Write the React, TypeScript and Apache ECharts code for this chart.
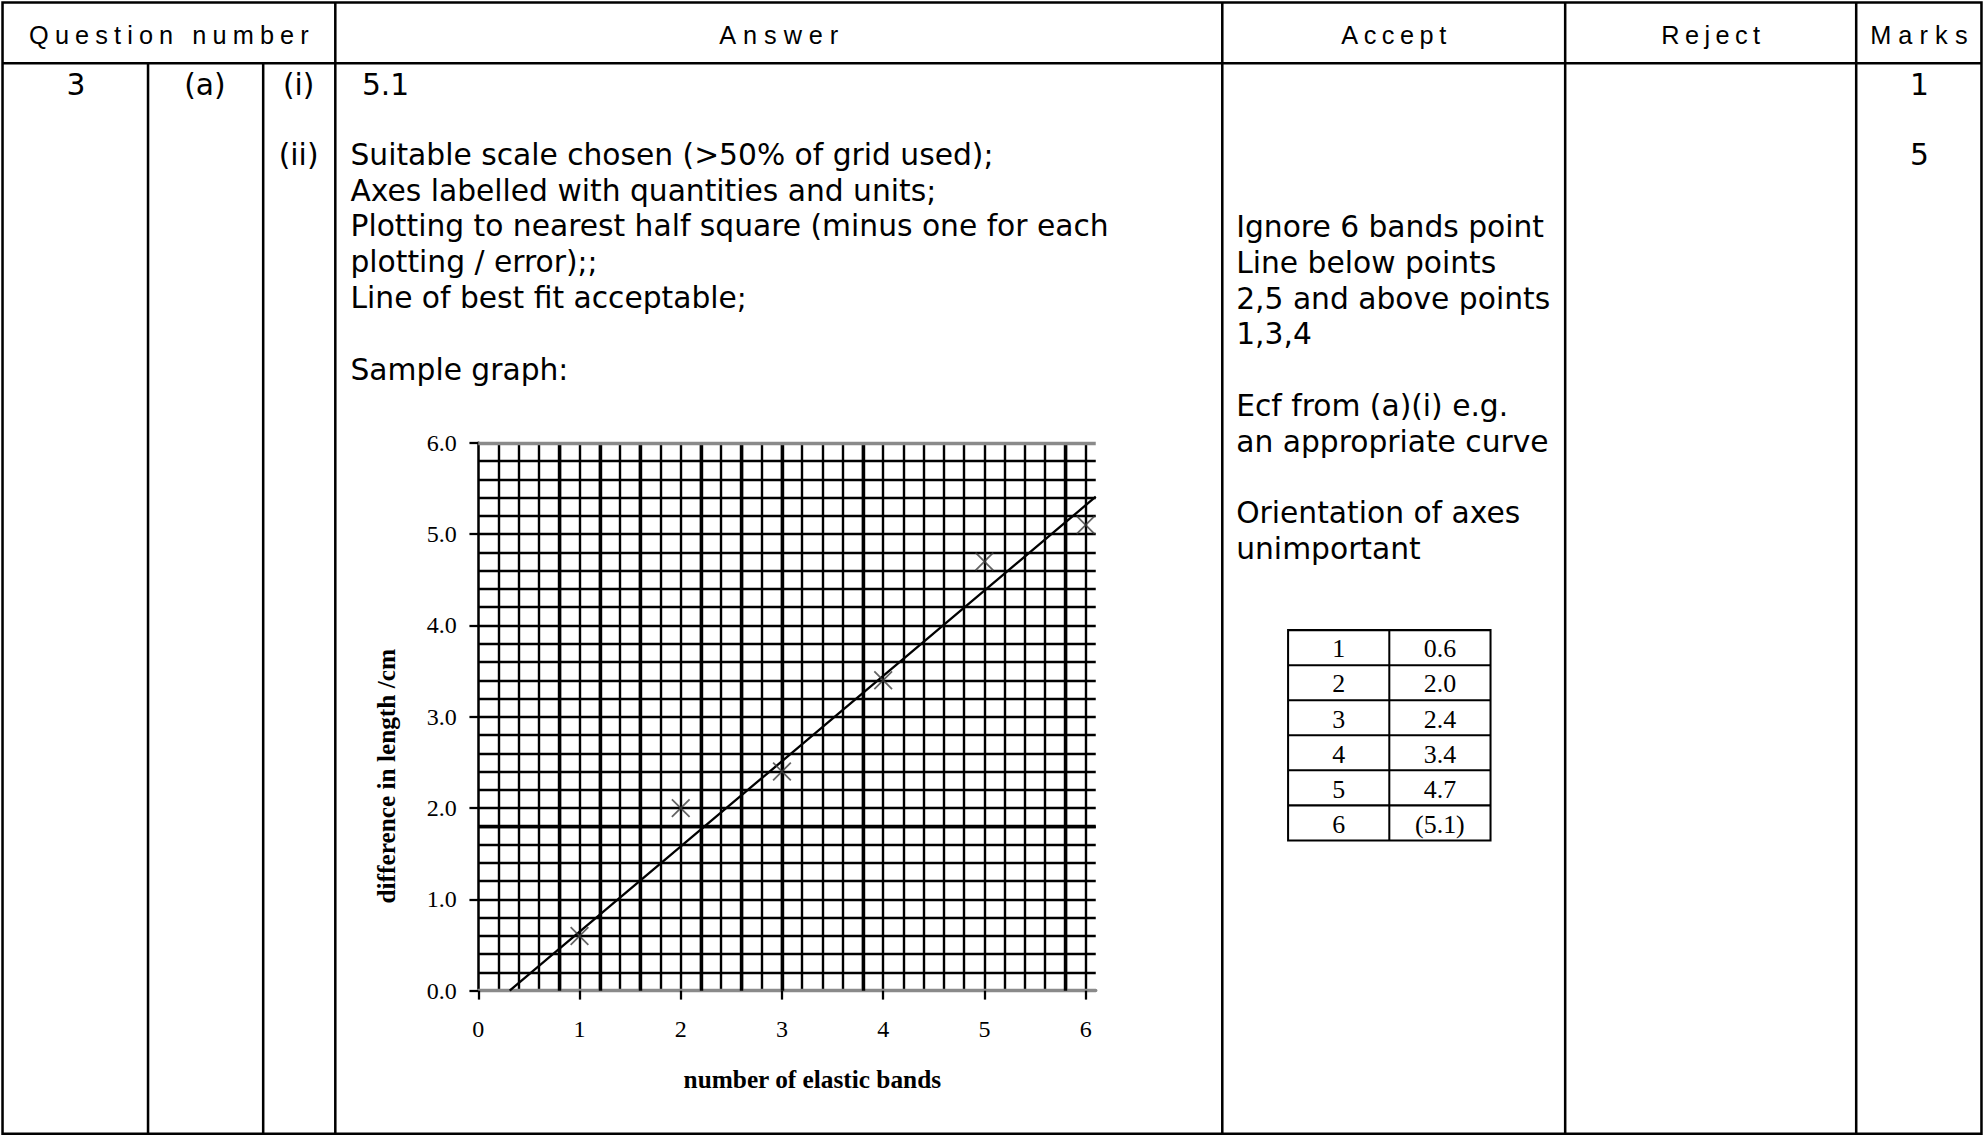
import React, { useEffect, useRef } from "react";
import * as echarts from "echarts";

// ---------- data ----------
const headerLabels = ["Question number", "Answer", "Accept", "Reject", "Marks"];
const questionParts = ["3", "(a)", "(i)", "(ii)"];
const partOneAnswer = "5.1";
const marks = ["1", "5"];
const answerLines = [
  "Suitable scale chosen (>50% of grid used);",
  "Axes labelled with quantities and units;",
  "Plotting to nearest half square (minus one for each",
  "plotting / error);;",
  "Line of best fit acceptable;",
  "",
  "Sample graph:",
];
const acceptLines = [
  "Ignore 6 bands point",
  "Line below points",
  "2,5 and above points",
  "1,3,4",
  "",
  "Ecf from (a)(i) e.g.",
  "an appropriate curve",
  "",
  "Orientation of axes",
  "unimportant",
];
const bands = [1, 2, 3, 4, 5, 6];
const diffs = [0.6, 2.0, 2.4, 3.4, 4.7, 5.1];
const ignoredBand = 6;
const fitLine = [
  [0.31, 0],
  [6.1, 5.41],
];
const xTickValues = [0, 1, 2, 3, 4, 5, 6];
const yTickValues = [0, 1, 2, 3, 4, 5, 6];
const thickX = [0.8, 1.2, 1.6, 2.2, 2.6, 3.0, 3.8, 5.8];
const thickY = [1.8];
const xName = "number of elastic bands";
const yName = "difference in length /cm";

// ---------- layout (reference measured at 1568 wide) ----------
const K = 1984 / 1568;
const p = (v: number) => v * K;
const LINE_H = 28.3;
const BODY_FONT = "'DejaVu Sans', Verdana, sans-serif";
const HEAD_FONT = "'Liberation Sans Narrow', 'Liberation Sans', Arial, sans-serif";
const SERIF = "'Liberation Serif', 'Times New Roman', serif";
const headerCenters = [133.5, 615.5, 1101.5, 1352, 1516.5];
const headerWidths = [221, 94, 83, 78, 77];

function txt(text: string, x: number, y: number, opts: any = {}) {
  const align = opts.align || "left";
  return {
    type: "text",
    x: p(x),
    y: p(y),
    silent: true,
    z: 10,
    style: {
      text,
      fill: "#000",
      fontFamily: opts.font || BODY_FONT,
      fontSize: p(opts.size || 23.5),
      fontWeight: opts.weight || "normal",
      textAlign: align,
      align,
      textVerticalAlign: "middle",
      verticalAlign: "middle",
    },
  };
}

function ln(x1: number, y1: number, x2: number, y2: number, w = 2) {
  return {
    type: "line",
    silent: true,
    z: 5,
    shape: { x1: p(x1), y1: p(y1), x2: p(x2), y2: p(y2) },
    style: { stroke: "#000", lineWidth: p(w) },
  };
}

function buildGraphic() {
  const g: any[] = [];
  // outer table
  g.push({
    type: "rect",
    silent: true,
    z: 5,
    shape: { x: p(2), y: p(2), width: p(1564), height: p(894) },
    style: { fill: "none", stroke: "#000", lineWidth: p(2) },
  });
  g.push(ln(2, 50, 1566, 50));
  g.push(ln(117, 50, 117, 896));
  g.push(ln(208, 50, 208, 896));
  [265, 966, 1237, 1467].forEach((x) => g.push(ln(x, 2, x, 896)));

  headerLabels.forEach((h, i) =>
    g.push(txt(h, headerCenters[i], 27.5, { align: "center", font: HEAD_FONT, size: 20 }))
  );

  g.push(txt(questionParts[0], 60, 67, { align: "center" }));
  g.push(txt(questionParts[1], 162, 67, { align: "center" }));
  g.push(txt(questionParts[2], 236, 67, { align: "center" }));
  g.push(txt(questionParts[3], 236, 122, { align: "center" }));
  g.push(txt(partOneAnswer, 286, 67));
  g.push(txt(marks[0], 1517, 67, { align: "center" }));
  g.push(txt(marks[1], 1517, 122, { align: "center" }));

  answerLines.forEach((t, i) => {
    if (t) g.push(txt(t, 277, 122 + i * LINE_H));
  });
  acceptLines.forEach((t, i) => {
    if (t) g.push(txt(t, 977, 179 + i * LINE_H));
  });

  // small data table
  const tx = 1018,
    ty = 498,
    tw = 160,
    rh = 27.7,
    split = 1098;
  g.push({
    type: "rect",
    silent: true,
    z: 5,
    shape: { x: p(tx), y: p(ty), width: p(tw), height: p(rh * bands.length) },
    style: { fill: "none", stroke: "#000", lineWidth: p(1.6) },
  });
  g.push(ln(split, ty, split, ty + rh * bands.length, 1.6));
  bands.forEach((b, i) => {
    if (i > 0) g.push(ln(tx, ty + rh * i, tx + tw, ty + rh * i, 1.6));
    const cy = ty + rh * i + rh / 2 + 1;
    const v = diffs[i].toFixed(1);
    g.push(txt(String(b), (tx + split) / 2, cy, { align: "center", font: SERIF, size: 20.5 }));
    g.push(
      txt(b === ignoredBand ? `(${v})` : v, (split + tx + tw) / 2, cy, {
        align: "center",
        font: SERIF,
        size: 20.5,
      })
    );
  });
  return g;
}

export default function App() {
  const ref = useRef<HTMLDivElement>(null);
  useEffect(() => {
    document.body.style.margin = "0";
    const el = ref.current!;
    const chart = echarts.init(el, null, { renderer: "svg" });
    const gridLine = { color: "#000", width: p(1.9) };
    const labelStyle = { fontFamily: SERIF, fontSize: p(19), color: "#000" };
    const nameStyle = { fontFamily: SERIF, fontSize: p(20), fontWeight: "bold", color: "#000" };
    chart.setOption({
      animation: false,
      backgroundColor: "#fff",
      graphic: buildGraphic(),
      grid: { left: p(378), top: p(350), width: p(488), height: p(433), containLabel: false },
      xAxis: [
        {
          type: "value",
          min: 0,
          max: 6.1,
          interval: 1,
          position: "bottom",
          axisLine: { show: true, onZero: false, lineStyle: { color: "#8a8a8a", width: p(2.6) } },
          axisTick: { show: true, length: p(7), customValues: xTickValues, lineStyle: { color: "#000", width: p(1.8) } },
          axisLabel: { customValues: xTickValues, margin: p(21), ...labelStyle },
          splitLine: { show: false },
          name: xName,
          nameLocation: "middle",
          nameGap: p(60),
          nameTextStyle: { ...nameStyle, padding: [0, 0, 0, p(40)] },
        },
        {
          type: "value",
          min: 0,
          max: 6.1,
          interval: 0.2,
          position: "top",
          axisLine: { show: false },
          axisTick: { show: false },
          axisLabel: { show: false },
          splitLine: { show: true, showMinLine: false, showMaxLine: false, lineStyle: gridLine },
        },
      ],
      yAxis: [
        {
          type: "value",
          min: 0,
          max: 6,
          interval: 1,
          position: "left",
          axisLine: { show: true, onZero: false, lineStyle: { color: "#000", width: p(2) } },
          axisTick: { show: true, length: p(7), customValues: yTickValues, lineStyle: { color: "#000", width: p(1.8) } },
          axisLabel: {
            customValues: yTickValues,
            margin: p(17),
            formatter: (v: number) => v.toFixed(1),
            ...labelStyle,
          },
          splitLine: { show: false },
          name: yName,
          nameLocation: "middle",
          nameGap: p(63),
          nameTextStyle: { ...nameStyle, padding: [0, p(94), 0, 0] },
        },
        {
          type: "value",
          min: 0,
          max: 6,
          interval: 0.2,
          position: "right",
          axisLine: { show: false },
          axisTick: { show: false },
          axisLabel: { show: false },
          splitLine: { show: true, showMinLine: false, showMaxLine: false, lineStyle: gridLine },
        },
      ],
      series: [
        {
          type: "line",
          xAxisIndex: 0,
          yAxisIndex: 0,
          data: fitLine,
          symbol: "none",
          silent: true,
          lineStyle: { color: "#000", width: p(1.8) },
          z: 4,
          markLine: {
            silent: true,
            symbol: ["none", "none"],
            label: { show: false },
            data: [
              ...thickX.map((v) => ({ xAxis: v, lineStyle: { color: "#000", width: p(2.7), type: "solid" } })),
              ...thickY.map((v) => ({ yAxis: v, lineStyle: { color: "#000", width: p(2.7), type: "solid" } })),
              { yAxis: 6, lineStyle: { color: "#8a8a8a", width: p(2.6), type: "solid" } },
            ],
            z: 2,
          },
        },
        {
          type: "scatter",
          xAxisIndex: 0,
          yAxisIndex: 0,
          data: bands.map((b, i) => [b, diffs[i]]),
          symbol: "path://M0,0L10,10M10,0L0,10",
          symbolSize: p(14),
          silent: true,
          z: 6,
          itemStyle: { color: "none", borderColor: "#3c3c3c", borderWidth: p(1.4) },
        },
      ],
    });
    // header letter spacing as in the reference
    el.querySelectorAll("text").forEach((t) => {
      const i = headerLabels.indexOf(t.textContent || "");
      if (i >= 0) {
        t.setAttribute("textLength", String(p(headerWidths[i])));
        t.setAttribute("lengthAdjust", "spacing");
      }
    });
    return () => chart.dispose();
  }, []);
  return (
    <div
      ref={ref}
      style={{ position: "fixed", left: 0, top: 0, width: 1984, height: 1136, background: "#fff" }}
    />
  );
}
